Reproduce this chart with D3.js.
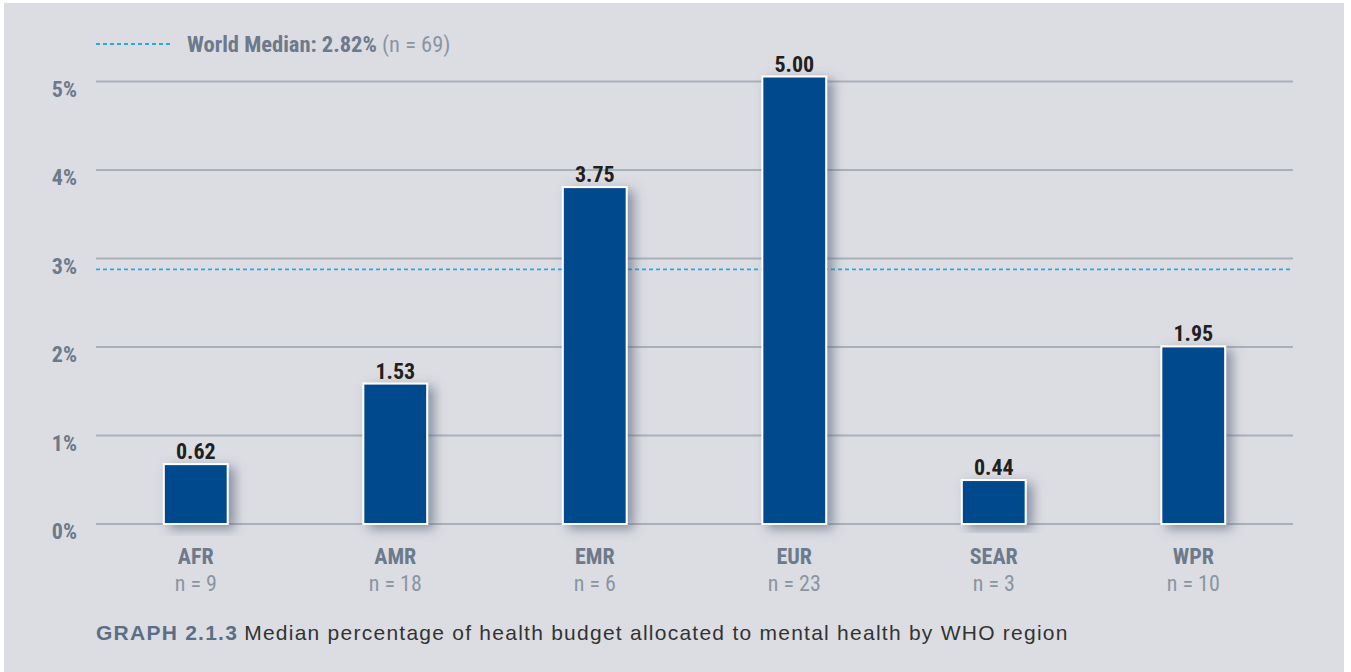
<!DOCTYPE html>
<html>
<head>
<meta charset="utf-8">
<script src="https://cdn.jsdelivr.net/npm/d3@7"></script>
<style>
	html, body { margin: 0; padding: 0; background: #ffffff; }
	svg { display: block; }
	text { font-family: "Liberation Sans Narrow", "Roboto Condensed", Roboto, sans-serif; }
</style>
</head>
<body>
<svg id="plot" width="1351" height="672"></svg>
<script>

const REGIONS = ['AFR', 'AMR', 'EMR', 'EUR', 'SEAR', 'WPR'];
const COUNTS = [9, 18, 6, 23, 3, 10];
const MEDIANS = [0.62, 1.53, 3.75, 5.00, 0.44, 1.95];
const Y_TICKS = [0, 1, 2, 3, 4, 5];
const WORLD_MEDIAN = 2.82;
const WORLD_N = 69;
const CAPTION_LABEL = 'GRAPH 2.1.3';
const CAPTION_TEXT = 'Median percentage of health budget allocated to mental health by WHO region';

function whenDocumentLoaded(action) {
	if (document.readyState === "loading") {
		document.addEventListener("DOMContentLoaded", action);
	} else {
		action();
	}
}

class BarChart {
	constructor(html_id, data) {
		const svg = d3.select(`#${html_id}`);
		const left = 96, right = 1293;
		const lift = 5; // data marks sit a few px above the gridlines in the original

		// panel background
		svg.append('rect')
			.attr('x', 4).attr('y', 3)
			.attr('width', 1340).attr('height', 669)
			.attr('fill', '#dcdde2');

		const defs = svg.append('defs');
		const f = defs.append('filter').attr('id', 'shadow')
			.attr('x', '-50%').attr('y', '-20%').attr('width', '200%').attr('height', '140%');
		f.append('feDropShadow')
			.attr('dx', 6).attr('dy', 4).attr('stdDeviation', 6)
			.attr('flood-color', '#4f5a74').attr('flood-opacity', 0.6);

		const x = d3.scaleBand().domain(REGIONS).range([left, right]).paddingInner(0.68).paddingOuter(0.34);
		const y = d3.scaleLinear().domain([0, 5]).range([524, 81.5]);

		// gridlines
		svg.selectAll('line.grid')
			.data(Y_TICKS)
			.enter().append('line')
			.attr('class', 'grid')
			.attr('x1', left).attr('x2', right)
			.attr('y1', (d) => y(d)).attr('y2', (d) => y(d))
			.attr('stroke', '#a8b0b9')
			.attr('stroke-width', 2);

		// y labels
		svg.selectAll('text.ylab')
			.data(Y_TICKS)
			.enter().append('text')
			.attr('class', 'ylab')
			.attr('x', 77)
			.attr('y', (d) => y(d) + 15)
			.attr('text-anchor', 'end')
			.attr('font-size', 22)
			.attr('font-weight', 'bold')
			.attr('fill', '#6c7a8b')
			.text((d) => `${d}%`);

		// world median line
		svg.append('line')
			.attr('x1', left).attr('x2', right)
			.attr('y1', y(WORLD_MEDIAN) - lift).attr('y2', y(WORLD_MEDIAN) - lift)
			.attr('stroke', '#27a9e1')
			.attr('stroke-width', 1.8)
			.attr('stroke-dasharray', '4,3');

		// bars
		svg.selectAll('rect.bar')
			.data(data)
			.enter().append('rect')
			.attr('class', 'bar')
			.attr('x', (d) => x(d.region))
			.attr('width', x.bandwidth())
			.attr('y', (d) => y(d.value) - lift)
			.attr('height', (d) => y(0) - y(d.value) + lift)
			.attr('fill', '#00498c')
			.attr('stroke', '#ffffff')
			.attr('stroke-width', 2)
			.attr('filter', 'url(#shadow)');

		// value labels
		svg.selectAll('text.val')
			.data(data)
			.enter().append('text')
			.attr('class', 'val')
			.attr('x', (d) => x(d.region) + x.bandwidth() / 2)
			.attr('y', (d) => y(d.value) - lift - 5)
			.attr('text-anchor', 'middle')
			.attr('font-size', 22)
			.attr('font-weight', 'bold')
			.attr('fill', '#231f20')
			.text((d) => d.value.toFixed(2));

		// category labels
		svg.selectAll('text.cat')
			.data(data)
			.enter().append('text')
			.attr('class', 'cat')
			.attr('x', (d) => x(d.region) + x.bandwidth() / 2)
			.attr('y', 564)
			.attr('text-anchor', 'middle')
			.attr('font-size', 22)
			.attr('font-weight', 'bold')
			.attr('fill', '#6c7a8b')
			.text((d) => d.region);

		svg.selectAll('text.n')
			.data(data)
			.enter().append('text')
			.attr('class', 'n')
			.attr('x', (d) => x(d.region) + x.bandwidth() / 2)
			.attr('y', 591)
			.attr('text-anchor', 'middle')
			.attr('font-size', 22)
			.attr('fill', '#8a95a3')
			.text((d) => `n = ${d.n}`);

		// legend
		svg.append('line')
			.attr('x1', left).attr('x2', 172)
			.attr('y1', 44).attr('y2', 44)
			.attr('stroke', '#27a9e1')
			.attr('stroke-width', 1.8)
			.attr('stroke-dasharray', '4,3');
		const leg = svg.append('text')
			.attr('x', 187).attr('y', 52)
			.attr('font-size', 22.5)
			.attr('fill', '#6c7a8b');
		leg.append('tspan').attr('font-weight', 'bold').text(`World Median: ${WORLD_MEDIAN}%`);
		leg.append('tspan').attr('fill', '#8a95a3').text(` (n = ${WORLD_N})`);

		// caption
		const cap = svg.append('text')
			.attr('x', 96).attr('y', 640)
			.attr('font-size', 21)
			.attr('letter-spacing', 1.25)
			.style('font-family', '"Liberation Sans", Arial, sans-serif');
		cap.append('tspan').attr('font-weight', 'bold').attr('fill', '#5a6f87').text(CAPTION_LABEL);
		cap.append('tspan').attr('fill', '#333333').attr('dx', 6).text(CAPTION_TEXT);
	}
}

whenDocumentLoaded(() => {
	const data = REGIONS.map((r, i) => ({ region: r, n: COUNTS[i], value: MEDIANS[i] }));
	new BarChart('plot', data);
});
</script>
</body>
</html>
